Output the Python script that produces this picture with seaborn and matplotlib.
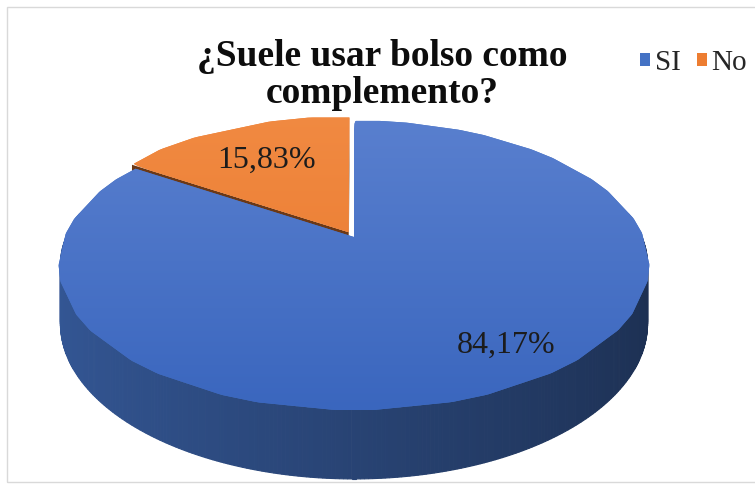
import numpy as np
import matplotlib
matplotlib.use("Agg")
import matplotlib.pyplot as plt
from matplotlib.colors import LinearSegmentedColormap, to_rgb
from matplotlib.patches import Polygon, Rectangle
from matplotlib.transforms import Affine2D, Transform
import seaborn as sns

# data
labels = ["SI", "No"]
values = [84.17, 15.83]
value_text = ["84,17%", "15,83%"]
explode = [0.0, 0.04]
title = "¿Suele usar bolso como\ncomplemento?"

# style
top_colors = {"SI": ("#5a80cf", "#3a66be"), "No": ("#f18a42", "#e8772b")}
base_colors = ["#4472c4", "#ed7d31"]
label_pos = [(506, 345), (267, 160)]  # pixel positions of the value labels

W, H = 755, 486
APEX_X, APEX_Y = 354, 237   # pixel position of pie centre
SX, SY = 288.0, 138.6       # pixel scale of unit disc
K = 0.194                   # perspective strength
DEPTH_PX = 56.4             # side wall height at d == 1


class Perspective(Transform):
    """Unit disc (u, v) seen from above at an angle, v pointing away."""
    input_dims = output_dims = 2
    is_separable = False
    has_inverse = False

    def transform_non_affine(self, values):
        values = np.asarray(values, dtype=float)
        d = 1 + K * values[:, 1]
        return np.column_stack([values[:, 0] / d, values[:, 1] / d])

    def transform_path_non_affine(self, path):
        path = path.interpolated(12)
        return super().transform_path_non_affine(path)


sns.set_theme(style="white")
plt.rcParams["font.family"] = ["Liberation Serif", "DejaVu Serif"]

fig = plt.figure(figsize=(W / 100, H / 100), dpi=100)
ax = fig.add_axes([0, 0, 1, 1])

wedges, _ = ax.pie(
    values,
    startangle=90,
    counterclock=False,
    explode=explode,
    colors=base_colors,
    radius=1,
    wedgeprops={"linewidth": 0},
)
ax.set_aspect("auto")
ax.set_xlim(0, W)
ax.set_ylim(H, 0)
ax.axis("off")

to_pix = Perspective() + Affine2D().scale(SX, -SY).translate(APEX_X, APEX_Y)


def project(u, v, depth=False):
    pts = to_pix.transform(np.column_stack([u, v]))
    if depth:
        pts[:, 1] += DEPTH_PX / (1 + K * np.asarray(v))
    return pts


def in_wedge(t, w):
    a = (t - w.theta1) % 360
    return a <= (w.theta2 - w.theta1) % 360 + 1e-9


# side walls, front half of the disc, shaded left to right
ts = np.linspace(170, 370, 300)
for t0, t1 in zip(ts[:-1], ts[1:]):
    tm = 0.5 * (t0 + t1)
    for w, col in zip(wedges, base_colors):
        if not in_wedge(tm, w):
            continue
        cx, cy = w.center
        a = np.radians([t0, t1])
        u = cx + np.cos(a)
        v = cy + np.sin(a)
        top = project(u, v)
        bot = project(u, v, depth=True)
        f = (np.cos(np.radians(tm)) + 1) / 2
        c = np.array(to_rgb(col)) * (0.76 - 0.34 * f)
        ax.add_patch(Polygon(
            [top[0], top[1], bot[1], bot[0]],
            closed=True, facecolor=c, edgecolor=c, linewidth=0.8, zorder=1,
        ))

# cut faces of the exploded slice
for w, col, e in zip(wedges, base_colors, explode):
    if e == 0:
        continue
    cx, cy = w.center
    for ang in (w.theta1, w.theta2):
        a = np.radians(ang)
        u = np.array([cx, cx + np.cos(a)])
        v = np.array([cy, cy + np.sin(a)])
        top = project(u, v)
        bot = project(u, v, depth=True)
        c = np.array(to_rgb(col)) * 0.45
        ax.add_patch(Polygon(
            [top[0], top[1], bot[1], bot[0]],
            closed=True, facecolor=c, edgecolor="none", zorder=1.5,
        ))

# top faces, projected, with a soft vertical gradient
grad = np.linspace(1, 0, 256).reshape(-1, 1)
for i, (w, lab) in enumerate(zip(wedges, labels)):
    w.set_transform(to_pix + ax.transData)
    w.set_zorder(2 + i)
    cmap = LinearSegmentedColormap.from_list(lab, list(top_colors[lab])[::-1])
    im = ax.imshow(
        grad, cmap=cmap, aspect="auto", origin="upper",
        extent=(0, W, 412, 112), zorder=2 + i,
    )
    im.set_clip_path(w)
ax.set_xlim(0, W)
ax.set_ylim(H, 0)

for txt, (x, y) in zip(value_text, label_pos):
    ax.text(x, y, txt, ha="center", va="center", fontsize=23,
            color="#1c1c1c", zorder=5)

fig.text(382 / W, 1 - 75 / H, title, ha="center", va="center",
         fontsize=27, fontweight="bold", color="#0d0d0d", linespacing=1.08)

fig.legend(
    wedges, labels, loc="center left",
    bbox_to_anchor=(614 / W, 1 - 63 / H),
    ncol=2, frameon=False, fontsize=21,
    handlelength=0.35, handleheight=0.35, handletextpad=0.15,
    columnspacing=0.55, labelcolor="#262626",
)

fig.add_artist(Rectangle((7 / W, 4 / H), 1.0, 1 - 11 / H, transform=fig.transFigure,
                         fill=False, edgecolor="#d9d9d9", linewidth=1))

fig.savefig("out.png", dpi=100)
